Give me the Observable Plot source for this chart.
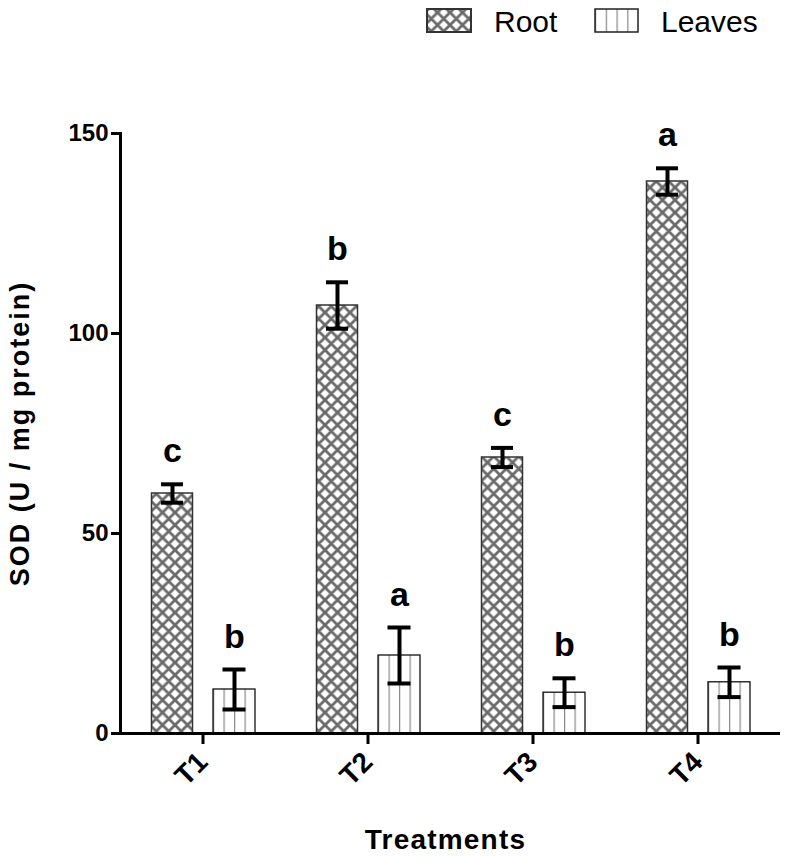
<!DOCTYPE html>
<html>
<head>
<meta charset="utf-8">
<script src="https://cdn.jsdelivr.net/npm/d3@7"></script>
<script src="https://cdn.jsdelivr.net/npm/@observablehq/plot@0.6"></script>
<style>
  html, body { margin: 0; padding: 0; background: #fff; }
  #legend { display: block; }
  text { font-family: 'Liberation Sans', Arial, sans-serif; }
</style>
</head>
<body>
<svg id="legend" width="793" height="50" viewBox="0 0 793 50">
  <defs>
    <pattern id="xhatch" patternUnits="userSpaceOnUse" width="12.5" height="12.5">
      <rect width="12.5" height="12.5" fill="#fff"/>
      <path d="M0,0L12.5,12.5M-3,9.5L3,15.5M9.5,-3L15.5,3M12.5,0L0,12.5M-3,3L3,-3M9.5,15.5L15.5,9.5" stroke="#6a6a6a" stroke-width="2.8" fill="none"/>
    </pattern>
    <pattern id="vlines" patternUnits="objectBoundingBox" width="0.25" height="1">
      <rect width="1000" height="3000" fill="#fff"/>
      <line x1="0" x2="0" y1="0" y2="3000" stroke="#888" stroke-width="2.4"/>
    </pattern>
  </defs>
  <rect x="427" y="9" width="44" height="23" fill="url(#xhatch)" stroke="#333" stroke-width="2"/>
  <text x="494" y="32" font-size="30" fill="#000">Root</text>
  <rect x="595" y="9" width="43" height="23" fill="url(#vlines)" stroke="#222" stroke-width="1.5"/>
  <text x="661" y="32" font-size="30" fill="#000">Leaves</text>
</svg>
<div id="chart"></div>
<script>
const treatments = ["T1", "T2", "T3", "T4"];
const tissues = ["Root", "Leaves"];
const rootMean = [60, 107, 69, 138];
const rootSE = [2.3, 5.8, 2.4, 3.3];
const rootLetters = ["c", "b", "c", "a"];
const leavesMean = [11, 19.5, 10.2, 12.8];
const leavesSE = [5, 7, 3.6, 3.7];
const leavesLetters = ["b", "a", "b", "b"];
const yTicks = [0, 50, 100, 150];
const yLabel = "SOD (U / mg protein)";
const xLabel = "Treatments";

const rootRows = treatments.map((t, i) => ({t, tissue: tissues[0], mean: rootMean[i], lo: rootMean[i] - rootSE[i], hi: rootMean[i] + rootSE[i], letter: rootLetters[i]}));
const leavesRows = treatments.map((t, i) => ({t, tissue: tissues[1], mean: leavesMean[i], lo: leavesMean[i] - leavesSE[i], hi: leavesMean[i] + leavesSE[i], letter: leavesLetters[i]}));

const R = {l: 31.5, r: 92.5, dx: -30.5};
const L = {l: 93, r: 30, dx: 31.5};
const capHalf = 9.5;
const EW = 4;

function group(rows, o, fill, stroke, sw) {
  return [
    Plot.barY(rows, {x: "t", y: "mean", insetLeft: o.l, insetRight: o.r, fill, stroke, strokeWidth: sw}),
    Plot.ruleX(rows, {x: "t", y1: "lo", y2: "hi", dx: o.dx, stroke: "#000", strokeWidth: EW}),
    Plot.tickY(rows, {x: "t", y: "hi", insetLeft: o.l + capHalf, insetRight: o.r + capHalf, stroke: "#000", strokeWidth: EW}),
    Plot.tickY(rows, {x: "t", y: "lo", insetLeft: o.l + capHalf, insetRight: o.r + capHalf, stroke: "#000", strokeWidth: EW}),
    Plot.text(rows, {x: "t", y: "hi", text: "letter", dx: o.dx, dy: -22, lineAnchor: "bottom", fontSize: 34, fontWeight: "bold", fill: "#000"})
  ];
}

const chart = Plot.plot({
  width: 793,
  height: 806,
  marginTop: 83,
  marginBottom: 123,
  marginLeft: 120,
  marginRight: 13,
  style: {fontFamily: "'Liberation Sans', Arial, sans-serif", background: "#fff", color: "#000", overflow: "visible"},
  x: {domain: treatments, padding: 0, axis: null},
  y: {domain: [0, 150], axis: null},
  marks: [
    ...group(rootRows, R, "url(#xhatch)", "#333", 1.5),
    ...group(leavesRows, L, "url(#vlines)", "#111", 1.3),
    Plot.ruleY([0], {stroke: "#000", strokeWidth: 3}),
    Plot.frame({anchor: "left", stroke: "#000", strokeWidth: 3}),
    Plot.axisY({ticks: yTicks, tickSize: 9, tickPadding: 3, fontSize: 24, fontWeight: "bold", strokeWidth: 3, label: null}),
    Plot.axisX({tickRotate: -45, tickSize: 11, tickPadding: 13, fontSize: 28, fontWeight: "bold", strokeWidth: 3, label: null}),
    Plot.text([yLabel], {frameAnchor: "left", rotate: -90, dx: -100, textAnchor: "middle", lineAnchor: "middle", fontSize: 27, fontWeight: "bold", fill: "#000"}),
    Plot.text([xLabel], {frameAnchor: "bottom", dx: -5, dy: 107, textAnchor: "middle", lineAnchor: "middle", fontSize: 28, fontWeight: "bold", fill: "#000"})
  ]
});
// slightly wider letter spacing, as in the reference's axis titles
d3.select(chart).selectAll("text")
  .filter(function () { return this.textContent === yLabel; })
  .attr("letter-spacing", "2px");
d3.select(chart).selectAll("text")
  .filter(function () { return this.textContent === xLabel; })
  .attr("letter-spacing", "1.2px");
document.getElementById("chart").appendChild(chart);
</script>
</body>
</html>
